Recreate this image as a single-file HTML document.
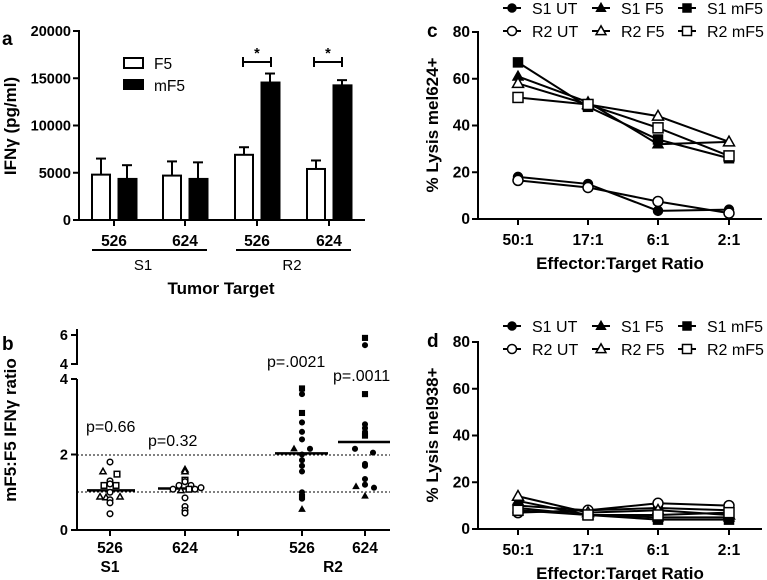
<!DOCTYPE html>
<html><head><meta charset="utf-8"><style>
body{margin:0;background:#fff}
svg{display:block;font-family:"Liberation Sans",Arial,sans-serif}
.t{font-size:14.5px;font-weight:bold}
.n{font-size:14px}
</style></head><body>
<svg id="s" width="767" height="580" viewBox="0 0 767 580" xmlns="http://www.w3.org/2000/svg"></svg>
<script>
// Panel a data
const aCats=["526","624","526","624"];
const aF5=[4800,4700,6900,5400];
const aF5err=[6500,6200,7700,6300];
const amF5=[4400,4400,14600,14300];
const amF5err=[5800,6100,15500,14800];
const aTicks=[0,5000,10000,15000,20000];
// Panel b data: [group index, x offset, value, shape, filled]
const bGroups=["526","624","526","624"];
const bTicksLow=[0,2,4];
const bTicksHigh=[4,6];
const bMedians=[1.05,1.1,2.03,2.33];
const bPoints=[
[0,0,1.8,"c",0],[0,-7,1.55,"t",0],[0,7,1.48,"s",0],[0,0,1.3,"c",0],[0,0,1.22,"c",0],[0,-6,1.18,"s",0],[0,6,1.18,"s",0],[0,0,1.0,"c",0],[0,-10,0.88,"t",0],[0,-4,0.86,"t",0],[0,10,0.88,"t",0],[0,0,0.8,"c",0],[0,0,0.72,"c",0],[0,0,0.43,"c",0],
[1,0,1.6,"t",0],[1,0,1.55,"t",0],[1,0,1.32,"s",0],[1,0,1.28,"c",0],[1,-6,1.18,"c",0],[1,6,1.18,"c",0],[1,-12,1.08,"c",0],[1,-4,1.05,"t",0],[1,4,1.08,"s",0],[1,10,1.08,"c",0],[1,16,1.12,"c",0],[1,0,0.85,"c",0],[1,0,0.62,"c",0],[1,0,0.52,"c",0],[1,0,0.45,"c",0],
[2,0,3.75,"s",1],[2,0,3.6,"c",1],[2,0,3.1,"s",1],[2,0,2.85,"c",1],[2,0,2.6,"c",1],[2,0,2.4,"c",1],[2,-8,2.15,"t",1],[2,8,2.15,"c",1],[2,0,2.0,"c",1],[2,0,1.85,"c",1],[2,0,1.7,"c",1],[2,0,1.55,"c",1],[2,0,1.0,"c",1],[2,0,0.88,"s",1],[2,0,0.83,"c",1],[2,0,0.55,"t",1],
[3,0,5.8,"s",1],[3,0,5.3,"c",1],[3,0,3.6,"s",1],[3,0,2.8,"c",1],[3,0,2.7,"c",1],[3,0,2.6,"c",1],[3,0,2.5,"s",1],[3,-10,2.15,"c",1],[3,8,2.05,"c",1],[3,0,1.75,"c",1],[3,0,1.7,"c",1],[3,0,1.35,"c",1],[3,0,1.2,"c",1],[3,-9,1.15,"t",1],[3,9,1.12,"c",1],[3,0,0.9,"t",1]
];
// Panels c/d data
const lysCats=["50:1","17:1","6:1","2:1"];
const lysTicks=[0,20,40,60,80];
const seriesNames=["S1 UT","R2 UT","S1 F5","R2 F5","S1 mF5","R2 mF5"];
const cS1UT=[18,15,3.5,4];
const cR2UT=[16.5,13.5,7.5,2.5];
const cS1F5=[61,50,32,33];
const cR2F5=[58,49,44,33];
const cS1mF5=[67,48,34,26];
const cR2mF5=[52,49,39,27];
const dS1UT=[10,8,9,8];
const dR2UT=[7,8,11,10];
const dS1F5=[12,6,5,5];
const dR2F5=[14,7,8,6];
const dS1mF5=[9,6,4,4];
const dR2mF5=[8,6,6,7];

const S=document.getElementById('s');
const NS="http://www.w3.org/2000/svg";
function el(tag,attrs,name,txt){const e=document.createElementNS(NS,tag);for(const k in attrs)e.setAttribute(k,attrs[k]);


if(txt!==undefined)e.textContent=txt;S.appendChild(e);return e;}
function line(x1,y1,x2,y2,name,w,dash){const a={x1,y1,x2,y2,stroke:"#000","stroke-width":w||2};if(dash)a["stroke-dasharray"]=dash;return el("line",a,name);}
function text(x,y,s,name,cls,anchor,extra){const a={x,y,class:cls||"t","text-anchor":anchor||"middle"};Object.assign(a,extra||{});return el("text",a,name,s);}
function marker(shape,x,y,r,filled,name){
 const f=filled?"#000":"#fff";
 if(shape==="c")return el("circle",{cx:x,cy:y,r:r,fill:f,stroke:"#000","stroke-width":1.5},name);
 if(shape==="s")return el("rect",{x:x-r,y:y-r,width:2*r,height:2*r,fill:f,stroke:"#000","stroke-width":1.5},name);
 return el("polygon",{points:`${x},${y-r*1.15} ${x-r*1.1},${y+r*0.8} ${x+r*1.1},${y+r*0.8}`,fill:f,stroke:"#000","stroke-width":1.5},name);
}

// ===== Panel a =====
const aY=v=>220-v*(189/20000);
const aX0=[92,163,235,307];
text(2,45,"a","panel-a-label","t","start",{style:"font-size:19px"});
line(79,30,79,221,"a-y-axis");line(78,220,365,220,"a-x-axis");
aTicks.forEach(t=>{line(73,aY(t),79,aY(t),"a-y-tick");text(71,aY(t)+5,String(t),"a-y-tick-label","t","end");});
aCats.forEach((c,i)=>{
 const x=aX0[i];
 line(x+9,aY(aF5err[i]),x+9,aY(aF5[i]),"a-f5-err");line(x+4,aY(aF5err[i]),x+14,aY(aF5err[i]),"a-f5-errcap");
 el("rect",{x:x,y:aY(aF5[i]),width:18,height:220-aY(aF5[i]),fill:"#fff",stroke:"#000","stroke-width":2},"bar-f5-"+i);
 line(x+35,aY(amF5err[i]),x+35,aY(amF5[i]),"a-mf5-err");line(x+30,aY(amF5err[i]),x+40,aY(amF5err[i]),"a-mf5-errcap");
 el("rect",{x:x+26,y:aY(amF5[i]),width:19,height:220-aY(amF5[i]),fill:"#000",stroke:"#000","stroke-width":1},"bar-mf5-"+i);
 line(x+22,220,x+22,226,"a-x-tick");
 text(x+22,246,c,"a-category-label","t","middle",{style:"font-size:15.5px"});
});
line(92,250,207,250,"s1-group-line");line(236,250,351,250,"r2-group-line");
text(143,270,"S1","a-group-s1","n","middle",{style:"font-size:15px"});text(292,270,"R2","a-group-r2","n","middle",{style:"font-size:15px"});
text(221,294,"Tumor Target","a-x-axis-title","t","middle",{style:"font-size:17px"});
text(16,126,"IFNγ (pg/ml)","a-y-axis-title","t","middle",{transform:"rotate(-90 16 126)",style:"font-size:17px"});
el("rect",{x:124,y:58,width:19,height:10,fill:"#fff",stroke:"#000","stroke-width":2},"legend-f5-swatch");
text(154,69,"F5","legend-f5","n","start",{style:"font-size:15.5px"});
el("rect",{x:123,y:79,width:21,height:11,fill:"#000"},"legend-mf5-swatch");
text(154,91,"mF5","legend-mf5","n","start",{style:"font-size:15.5px"});
[[243,271],[314,342]].forEach((b,i)=>{line(b[0],62,b[1],62,"sig-bracket");line(b[0],57,b[0],67,"sig-bracket-end");line(b[1],57,b[1],67,"sig-bracket-end");text((b[0]+b[1])/2,58,"*","sig-star");});

// ===== Panel b =====
const bY=v=>v<=4?530-v*(151/4):364-(v-4)*14.5;
const bX=[110,185,302,365];
text(2,350,"b","panel-b-label","t","start",{style:"font-size:19px"});
line(77,379,77,531,"b-y-axis-low");line(77,329,77,365,"b-y-axis-high");
line(76,530,390,530,"b-x-axis");
bTicksLow.forEach(t=>{line(71,bY(t),77,bY(t),"b-y-tick");text(68,bY(t)+5,String(t),"b-y-tick-label","t","end");});
bTicksHigh.forEach(t=>{const y=t===4?364:bY(t);line(71,y,77,y,"b-y-tick");text(68,y+5,String(t),"b-y-tick-label","t","end");});
line(71,379,77,379,"b-y-tick");
line(77,455,390,455,"ref-line-2",1,"2,2");line(77,492,390,492,"ref-line-1",1,"2,2");
[110,185,238,302,365].forEach(x=>line(x,530,x,536,"b-x-tick"));
bGroups.forEach((g,i)=>text(bX[i],553,g,"b-category-label","t","middle",{style:"font-size:15.5px"}));
text(110,572,"S1","b-group-s1","t","middle",{style:"font-size:15.5px"});text(333,572,"R2","b-group-r2","t","middle",{style:"font-size:15.5px"});
const mW=[[87,135],[158,201],[275,328],[338,390]];
bMedians.forEach((m,i)=>line(mW[i][0],bY(m),mW[i][1],bY(m),"median-line-"+i,2.5));
bPoints.forEach(p=>marker(p[3],bX[p[0]]+p[1],bY(p[2]),p[4]?2.3:2.8,p[4],"ratio-point"));
text(86,432,"p=0.66","p-value-s1-526","n","start",{style:"font-size:16px"});
text(148,446,"p=0.32","p-value-s1-624","n","start",{style:"font-size:16px"});
text(267,367,"p=.0021","p-value-r2-526","n","start",{style:"font-size:16px"});
text(333,381,"p=.0011","p-value-r2-624","n","start",{style:"font-size:16px"});
text(16,430,"mF5:F5 IFNγ ratio","b-y-axis-title","t","middle",{transform:"rotate(-90 16 430)",style:"font-size:17px"});

// ===== Panels c, d =====
const shapes=["c","c","t","t","s","s"];
const fills=[1,0,1,0,1,0];
const lx=[518,588,658,729];
function lysis(y0,legY,label,seriesData,ytitle,pfx){
 const Y=v=>y0-v*(187/80);
 text(427,y0-182,label,"panel-"+pfx+"-label","t","start",{style:"font-size:19px"});
 line(478,y0-188,478,y0+1,pfx+"-y-axis");line(477,y0,762,y0,pfx+"-x-axis");
 lysTicks.forEach(t=>{line(472,Y(t),478,Y(t),pfx+"-y-tick");text(470,Y(t)+5,String(t),pfx+"-y-tick-label","t","end",{style:"font-size:15.5px"});});
 lysCats.forEach((c,i)=>{line(lx[i],y0,lx[i],y0+6,pfx+"-x-tick");text(lx[i],y0+26,c,pfx+"-x-tick-label","t","middle",{style:"font-size:15.5px"});});
 text(620,y0+50,"Effector:Target Ratio",pfx+"-x-axis-title","t","middle",{style:"font-size:17px"});
 text(438,y0-94,ytitle,pfx+"-y-axis-title","t","middle",{transform:`rotate(-90 438 ${y0-94})`,style:"font-size:17px"});
 seriesData.forEach((d,k)=>{
  el("polyline",{points:d.map((v,i)=>lx[i]+","+Y(v)).join(" "),fill:"none",stroke:"#000","stroke-width":2},pfx+"-line-"+seriesNames[k].replace(/ /g,"-").toLowerCase());
  d.forEach((v,i)=>marker(shapes[k],lx[i],Y(v),fills[k]?4.5:5,fills[k],pfx+"-point"));
 });
 const colX=[503,592,678];
 seriesNames.forEach((n,k)=>{
  const col=Math.floor(k/2),row=k%2;const x=colX[col],y=legY+row*23;
  line(x,y,x+18,y,pfx+"-legend-line");marker(shapes[k],x+9,y,fills[k]?4:4.5,fills[k],pfx+"-legend-marker");
  text(x+29,y+6,n,pfx+"-legend-entry","n","start",{style:"font-size:16px"});
 });
}
lysis(219,8,"c",[cS1UT,cR2UT,cS1F5,cR2F5,cS1mF5,cR2mF5],"% Lysis mel624+","c");
lysis(529,326,"d",[dS1UT,dR2UT,dS1F5,dR2F5,dS1mF5,dR2mF5],"% Lysis mel938+","d");
</script>
</body></html>
